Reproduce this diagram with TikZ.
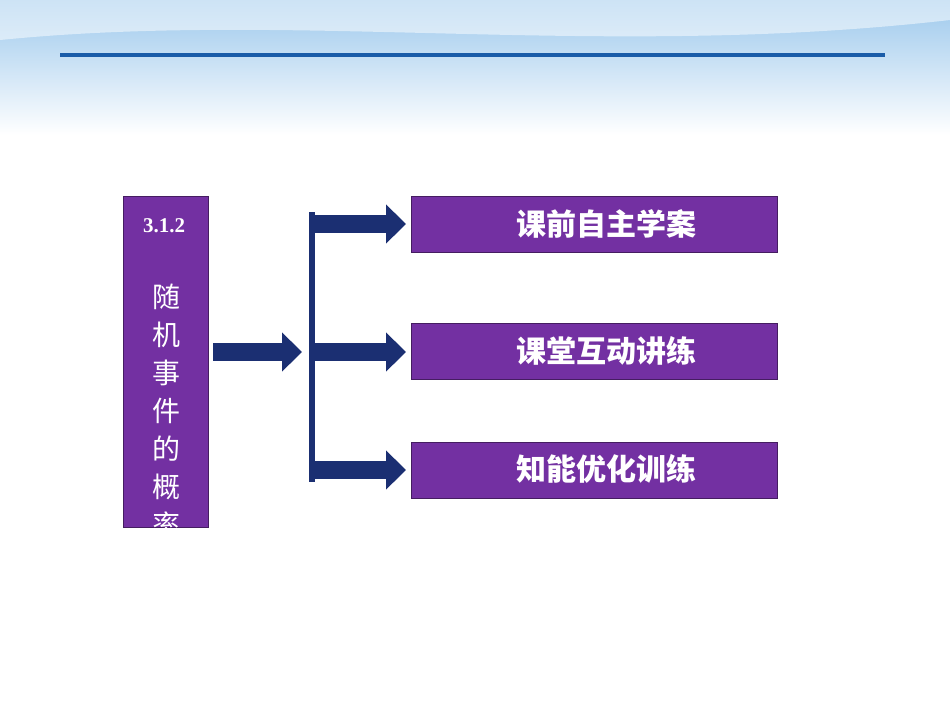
\documentclass[tikz,border=0pt]{standalone}
\usepackage{fontspec}
\setmainfont{Liberation Serif}
\newfontfamily\cjk{Noto Sans CJK SC}
\usetikzlibrary{arrows.meta}
\definecolor{pur}{HTML}{7330A2}
\definecolor{navy}{HTML}{1B2F72}
\definecolor{skyb}{HTML}{9CC8EC}
\definecolor{lineb}{HTML}{1A5CA8}
\tikzset{
  box/.style={fill=pur, draw=pur!60!black, line width=0.6pt, inner sep=0pt, anchor=north west},
  lbl/.style={text=white, font=\cjk\bfseries\fontsize{30}{32}\selectfont},
  bigarrow/.style={navy, line width=18pt, -{Triangle[length=20pt,width=38pt]}}
}
\begin{document}
\begin{tikzpicture}[x=1pt,y=-1pt]
\useasboundingbox (0,0) rectangle (950,713);
\fill[white] (0,0) rectangle (950,713);
\shade[top color=skyb, bottom color=white] (0,0) rectangle (950,135);
\fill[white, opacity=0.5] (0,0) -- (950,0) -- (950,20) .. controls (600,60) and (300,10) .. (0,40) -- cycle;
\draw[lineb, line width=4pt] (60,55) -- (885,55);
% left box
\node[box, minimum width=85pt, minimum height=331pt] (L) at (123,196) {};
\node[text=white, font=\bfseries\fontsize{21}{22}\selectfont] (num) at (164,226) {3.1.2};
\begin{scope}
\clip (123,196) rectangle (208,527);
\node[text=white, font=\cjk\fontsize{28}{38}\selectfont, align=center, anchor=north] (title) at (166,280) {随\\机\\事\\件\\的\\概\\率};
\end{scope}
% right boxes
\node[box, minimum width=366pt, minimum height=56pt] (A) at (411,196) {};
\node[box, minimum width=366pt, minimum height=56pt] (B) at (411,323) {};
\node[box, minimum width=366pt, minimum height=56pt] (C) at (411,442) {};
\node[lbl] at (606,224) {课前自主学案};
\node[lbl] at (606,351) {课堂互动讲练};
\node[lbl] at (606,469) {知能优化训练};
% bar
\fill[navy] (309,212) rectangle (315,482);
\coordinate (s0) at (213,352);
\coordinate (e0) at (302,352);
\draw[bigarrow] (s0) -- (e0);
\coordinate (s1) at (315,224); \coordinate (s2) at (315,352); \coordinate (s3) at (315,470);
\draw[bigarrow] (s1) -- (406,224);
\draw[bigarrow] (s2) -- (406,352);
\draw[bigarrow] (s3) -- (406,470);
\end{tikzpicture}
\end{document}
